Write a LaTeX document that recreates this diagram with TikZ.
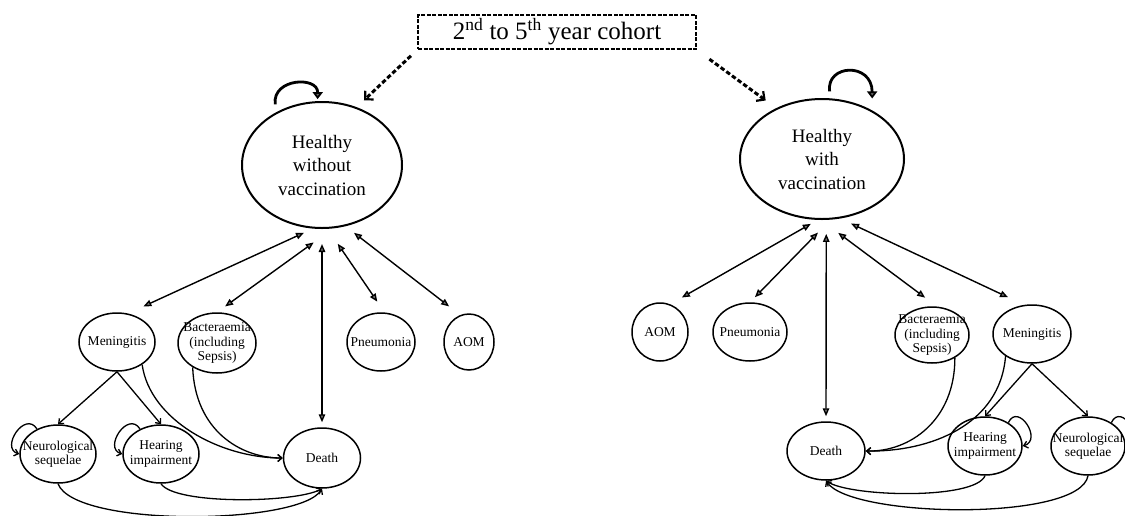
\documentclass[tikz,border=0pt]{standalone}
\usepackage{fontspec}
\setmainfont{Liberation Serif}
\usetikzlibrary{arrows.meta,shapes.geometric}
\begin{document}
\begin{tikzpicture}[x=1pt,y=-1pt]
\tikzset{
 ell/.style={ellipse, draw, line width=1.5pt, inner sep=0pt},
 big/.style={ellipse, draw, line width=2pt, inner sep=0pt},
 lab/.style={font=\fontsize{13.5}{14.5}\selectfont, align=center, inner sep=0pt},
 hlab/.style={font=\fontsize{19}{23.5}\selectfont, align=center, inner sep=0pt},
 dbl/.style={line width=1.4pt, {Triangle[length=8pt,width=6.5pt,fill=black!55]}-{Triangle[length=8pt,width=6.5pt,fill=black!55]}},
 thin/.style={line width=1.3pt, -{Straight Barb[length=4pt,width=7pt]}},
 titarrow/.style={line width=3pt, dash pattern=on 4.5pt off 2.5pt, -{Straight Barb[length=6pt,width=12pt,line width=2.2pt]}},
 toploop/.style={line width=2.8pt, -{Triangle[length=7pt,width=10pt,fill=black!60]}}
}
\useasboundingbox (0,0) rectangle (1125,515);

% title
\node[draw, line width=2.6pt, dash pattern=on 4pt off 1.5pt, minimum width=278pt, minimum height=34pt, inner sep=0pt,
      font=\fontsize{25}{28}\selectfont] (tit) at (557,32) {2\textsuperscript{nd} to 5\textsuperscript{th} year cohort};

% healthy states
\node[big, minimum width=160pt, minimum height=126pt, label={[hlab]center:Healthy\\without\\vaccination}] (hl) at (322,165) {};
\node[big, minimum width=164pt, minimum height=120pt, label={[hlab]center:Healthy\\with\\vaccination}] (hr) at (822,159) {};

% left disease states
\node[ell, minimum width=76pt, minimum height=58pt, label={[lab]center:Meningitis}] (men1) at (117,342) {};
\node[ell, minimum width=78pt, minimum height=60pt, label={[lab]center:Bacteraemia\\(including\\Sepsis)}] (bac1) at (217,343) {};
\node[ell, minimum width=68pt, minimum height=58pt, label={[lab]center:Pneumonia}] (pne1) at (381,342) {};
\node[ell, minimum width=50pt, minimum height=56pt, label={[lab]center:AOM}] (aom1) at (469,342) {};
\node[ell, minimum width=77pt, minimum height=60pt, label={[lab]center:Death}] (death1) at (322,458) {};
\node[ell, minimum width=76pt, minimum height=58pt, label={[lab]center:Neurological\\sequelae}] (neu1) at (58,454) {};
\node[ell, minimum width=76pt, minimum height=58pt, label={[lab]center:Hearing\\impairment}] (hea1) at (161,454) {};

% right disease states
\node[ell, minimum width=56pt, minimum height=58pt, label={[lab]center:AOM}] (aom2) at (660,332) {};
\node[ell, minimum width=74pt, minimum height=58pt, label={[lab]center:Pneumonia}] (pne2) at (750,332) {};
\node[ell, minimum width=74pt, minimum height=56pt, label={[lab]center:Bacteraemia\\(including\\Sepsis)}] (bac2) at (932,335) {};
\node[ell, minimum width=78pt, minimum height=58pt, label={[lab]center:Meningitis}] (men2) at (1032,334) {};
\node[ell, minimum width=78pt, minimum height=58pt, label={[lab]center:Death}] (death2) at (826,451) {};
\node[ell, minimum width=74pt, minimum height=58pt, label={[lab]center:Hearing\\impairment}] (hea2) at (985,446) {};
\node[ell, minimum width=74pt, minimum height=58pt, label={[lab]center:Neurological\\sequelae}] (neu2) at (1088,446) {};

% title arrows
\draw[titarrow, shorten <=8pt, shorten >=10pt] (tit.south west) -- (hl.59);
\draw[titarrow, shorten <=15pt, shorten >=13pt] (tit.south east) -- (hr.132);

% top self loops
\draw[toploop, shorten <=8pt, shorten >=2pt] (hl.131) .. controls (272,78) and (318,76) .. (hl.94.5);
\draw[toploop, shorten <=7pt, shorten >=12pt] (hr.82) .. controls (826,64) and (872,62) .. (hr.44.5);

% left double arrows
\draw[dbl, shorten <=10pt, shorten >=17pt] (hl.-98.6) -- (men1.69);
\draw[dbl, shorten <=24pt, shorten >=10pt] (hl.-80.3) -- (bac1.90);
\draw[dbl, shorten <=15pt, shorten >=5pt] (hl.-90) -- (death1.90);
\draw[dbl, shorten <=18pt, shorten >=13pt] (hl.-85.6) -- (pne1.83);
\draw[dbl, shorten <=10.7pt, shorten >=14pt] (hl.-69.6) -- (aom1.108);

% right double arrows
\draw[dbl, shorten <=8pt, shorten >=13.5pt] (hr.-94.7) -- (aom2.70);
\draw[dbl, shorten <=18pt, shorten >=7pt] (hr.-82.9) -- (pne2.90);
\draw[dbl, shorten <=14pt, shorten >=5pt] (hr.-86.2) -- (death2.90);
\draw[dbl, shorten <=21.5pt, shorten >=14.8pt] (hr.-91) -- (bac2.80.3);
\draw[dbl, shorten <=12pt, shorten >=17.8pt] (hr.-73.9) -- (men2.105.5);

% left transitions
\draw[thin] (men1.south) -- (neu1.north);
\draw[thin] (men1.south) -- (hea1.north);
\draw[thin] (men1.-42) .. controls (150,420) and (220,458) .. (death1.west);
\draw[thin] (bac1.-135) .. controls (195,430) and (240,458) .. (death1.west);
\draw[thin] (neu1.south) .. controls (75,528) and (300,525) .. (death1.south);
\draw[thin] (hea1.south) .. controls (175,505) and (295,503) .. (death1.south);
\draw[thin] (neu1.130) .. controls (25,410) and (0,448) .. (neu1.west);
\draw[thin] (hea1.130) .. controls (128,410) and (103,448) .. (hea1.west);

% right transitions
\draw[thin] (men2.south) -- (hea2.north);
\draw[thin] (men2.south) -- (neu2.north);
\draw[thin] (bac2.-45) .. controls (955,420) and (910,452) .. (death2.east);
\draw[thin] (men2.-140) .. controls (1000,425) and (930,452) .. (death2.east);
\draw[thin] (hea2.south) .. controls (975,500) and (850,497) .. (death2.south);
\draw[thin] (neu2.south) .. controls (1080,522) and (850,518) .. (death2.south);
\draw[thin] (hea2.45) .. controls (1018,402) and (1043,440) .. (hea2.east);
\draw[thin] (neu2.45) .. controls (1121,402) and (1146,440) .. (neu2.east);
\end{tikzpicture}
\end{document}
